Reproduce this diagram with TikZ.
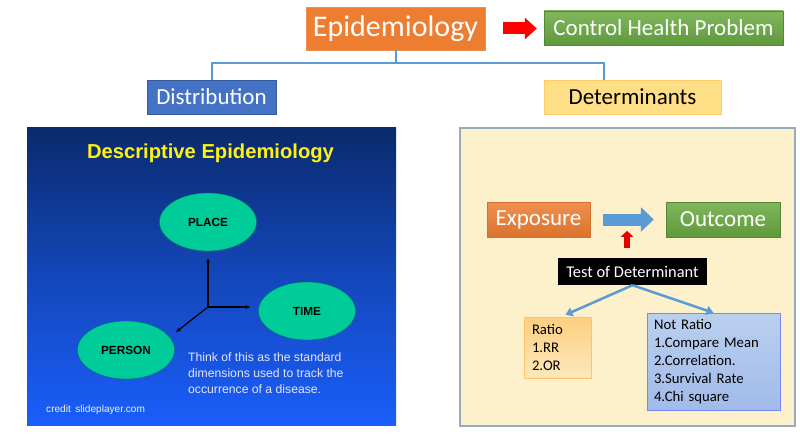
\documentclass[tikz,border=0pt]{standalone}
\usepackage{fontspec}
\setmainfont{Carlito}
\newfontfamily\slidefont{Liberation Sans}
\usepackage{tikz}
\usetikzlibrary{arrows.meta,backgrounds,calc,shapes.geometric,positioning}

\definecolor{epiorange}{HTML}{ED7D31}
\definecolor{ctrlgreen}{HTML}{6AAA42}
\definecolor{distblue}{HTML}{4472C4}
\definecolor{detyellow}{HTML}{FFDF85}
\definecolor{linkblue}{HTML}{5B9BD5}
\definecolor{slidetop}{HTML}{0A2A6C}
\definecolor{slidebot}{HTML}{1A5EFA}
\definecolor{ovalgreen}{HTML}{00CC99}
\definecolor{panelcream}{HTML}{FDF1CC}
\definecolor{panelline}{HTML}{98AABD}
\definecolor{ratioorange}{HTML}{FDD88E}
\definecolor{notratioblue}{HTML}{A9C4EA}

\tikzset{
  box/.style={inner sep=0pt, align=center},
  listbox/.style={inner xsep=7pt, inner ysep=0pt, align=left,
    font=\fontsize{14.7}{18}\selectfont},
  oval/.style={ellipse, fill=ovalgreen, draw=ovalgreen!60!black, thin,
    minimum width=97, minimum height=58, inner sep=0pt,
    font=\slidefont\bfseries\fontsize{11.8}{14}\selectfont},
  link/.style={linkblue, line width=2pt},
  axis/.style={black, line width=1.2pt, -{Stealth[length=5pt,width=4pt]}}
}

\begin{document}
\begin{tikzpicture}[x=1pt,y=-1pt]
\useasboundingbox (0,0) rectangle (800,436);

% top row
\node[box, fill=epiorange, draw=epiorange!85!white, minimum width=179, minimum height=43,
  text=white, font=\fontsize{30}{36}\selectfont] (epi) at (395.5,28.5) {Epidemiology};
\node[box, top color=ctrlgreen!85!white, bottom color=ctrlgreen!90!black, draw=ctrlgreen!80!black,
  minimum width=239, minimum height=34, text=white,
  font=\fontsize{23}{28}\selectfont] (ctrl) at (663.5,28) {Control Health Problem};
\draw[red, line width=12pt, -{Triangle[length=12pt,width=21pt]}]
  ([xshift=18pt]epi.east) -- ([xshift=-7pt]epi.east -| ctrl.west);

\node[box, fill=distblue, draw=distblue!80!black, minimum width=129, minimum height=34,
  text=white, font=\fontsize{23}{28}\selectfont] (dist) at (211.5,97) {Distribution};
\node[box, fill=detyellow, draw=detyellow!80!orange, minimum width=177, minimum height=34,
  font=\fontsize{23}{28}\selectfont] (det) at (632.5,97) {Determinants};
\coordinate (detin) at (604,80);
\draw[link] (epi.south) -- ++(0,13) -| (dist.north);
\draw[link] (epi.south) -- ++(0,13) -| (detin);

% descriptive slide
\node[minimum width=369, minimum height=298, inner sep=0pt, top color=slidetop,
  bottom color=slidebot, middle color=slidetop!45!slidebot] (slide) at (211.5,276) {};
\node[text=yellow!95!white, font=\slidefont\bfseries\fontsize{20.2}{24}\selectfont]
  (desc) at (210.5,153) {Descriptive Epidemiology};
\node[oval] (place) at (208,222) {PLACE};
\node[oval] (time) at (307,311) {TIME};
\node[oval] (person) at (126,350) {PERSON};
\coordinate (axo) at (208,307);
\draw[axis] (axo) -- ($(place.south)+(0,7)$);
\draw[axis] (axo) -- ($(time.west)+(-8,-4)$);
\draw[axis] (axo) -- (176,332);
\node[anchor=west, align=left, text=white!90!blue, inner sep=0pt,
  font=\slidefont\fontsize{12.2}{16}\selectfont] (think) at (188,373)
  {Think of this as the standard\\dimensions used to track the\\occurrence of a disease.};
\node[anchor=west, inner sep=0pt, text=white!88!gray,
  font=\slidefont\fontsize{10.1}{12}\selectfont] (credit) at (46,410) {credit\, slideplayer.com};

% determinants panel
\node[minimum width=335, minimum height=298, inner sep=0pt, fill=panelcream,
  draw=panelline, line width=1.2pt] (panel) at (627.5,277) {};
\node[box, top color=epiorange!85!white, bottom color=epiorange!92!black, draw=epiorange!90!black,
  minimum width=103, minimum height=35, text=white,
  font=\fontsize{23}{28}\selectfont] (expo) at (538.5,219.5) {Exposure};
\node[box, top color=ctrlgreen!85!white, bottom color=ctrlgreen!90!black, draw=ctrlgreen!80!black,
  minimum width=114, minimum height=35, text=white,
  font=\fontsize{23}{28}\selectfont] (outc) at (723,219.5) {Outcome};
\draw[linkblue, line width=12pt, -{Triangle[length=13pt,width=24pt]}]
  ([xshift=13pt]expo.east) -- ([xshift=-12pt]expo.east -| outc.west);
\node[box, fill=black, minimum width=149, minimum height=27, text=white,
  font=\fontsize{16.4}{20}\selectfont] (test) at (632.5,271.5) {Test of Determinant};
\draw[red!90!black, line width=6pt, -{Triangle[length=6pt,width=12pt]}]
  ($(test.north)+(-5.5,-10)$) -- ($(test.north)+(-5.5,-27)$);

\node[listbox, top color=ratioorange!90!orange, bottom color=ratioorange!60!white,
  draw=ratioorange!75!orange, minimum width=67, minimum height=61, inner xsep=8pt,
  text width=51] (ratio) at (557.5,347.5) {Ratio\\1.RR\\2.OR};
\node[listbox, top color=notratioblue!80!white, bottom color=notratioblue!95!blue,
  draw=notratioblue!70!blue, minimum width=133, minimum height=97,
  text width=119] (notratio) at (713.5,361.5)
  {Not Ratio\\1.Compare Mean\\2.Correlation.\\3.Survival Rate\\4.Chi square};
\draw[link, line width=2.5pt, -{Triangle[length=7pt,width=9pt]}] (test.south) -- ($(ratio.north)+(8,-2)$);
\draw[link, line width=2.5pt, -{Triangle[length=7pt,width=9pt]}] (test.south) -- (notratio.north);
\end{tikzpicture}
\end{document}
